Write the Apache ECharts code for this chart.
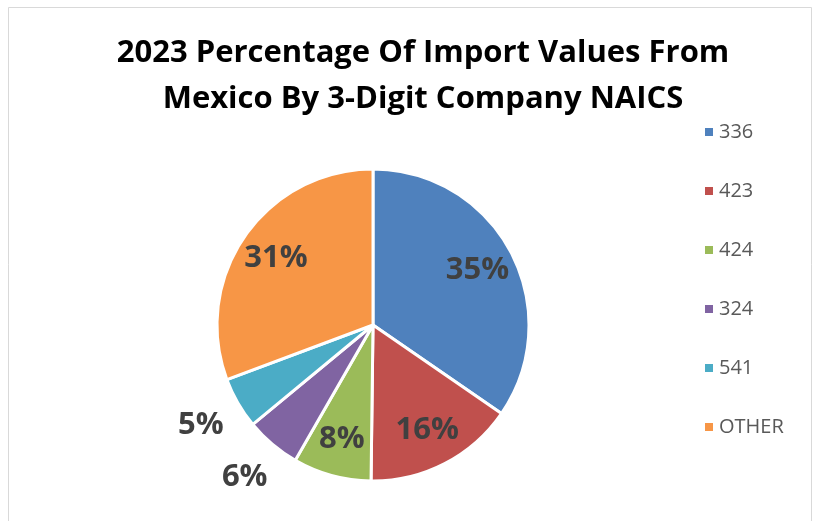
<!DOCTYPE html>
<html>
<head>
<meta charset="utf-8">
<script src="https://cdn.jsdelivr.net/npm/echarts@6/dist/echarts.min.js"></script>
<style>
  html, body { margin: 0; padding: 0; background: #fff; }
  #main { width: 814px; height: 521px; }
</style>
</head>
<body>
<div id="main"></div>
<script>
// company NAICS codes and their share of import value (percent)
const codes = ["336", "423", "424", "324", "541", "OTHER"];
const shares = [34.6, 15.6, 8.1, 5.7, 5.3, 30.7];
const colors = ["#4F81BD", "#C0504D", "#9BBB59", "#8064A2", "#4BACC6", "#F79646"];
// which slices carry their label outside the pie
const outsideLabel = [false, false, false, true, true, false];

const font = "'Open Sans', 'Liberation Sans', sans-serif";

const pieData = codes.map((c, i) => ({
  name: c,
  value: shares[i],
  itemStyle: { color: colors[i] },
}));

const labelText = (p) => Math.round(p.percent) + "%";
const labelStyle = {
  show: true,
  position: "inside",
  formatter: labelText,
  fontFamily: font,
  fontWeight: "bold",
  fontSize: 31,
  color: "#404040",
};

// label-only rings laid over the pie, one for inner labels, one for outer ones
function labelRing(radius, wantOutside) {
  return {
    type: "pie",
    radius: radius,
    center: [373, 325],
    startAngle: 90,
    clockwise: true,
    silent: true,
    animation: false,
    itemStyle: { color: "rgba(0,0,0,0)", borderWidth: 0 },
    labelLine: { show: false },
    emphasis: { disabled: true },
    data: codes.map((c, i) => ({
      name: c,
      value: shares[i],
      label: Object.assign({}, labelStyle, { show: outsideLabel[i] === wantOutside }),
    })),
  };
}

const chart = echarts.init(document.getElementById("main"));
chart.setOption({
  backgroundColor: "#fff",
  animation: false,
  graphic: [
    {
      type: "rect",
      shape: { x: 8.5, y: 7.5, width: 803, height: 540 },
      style: { fill: "none", stroke: "#d9d9d9", lineWidth: 1 },
      silent: true,
    },
  ],
  title: {
    text: "2023 Percentage Of Import Values From\nMexico By 3-Digit Company NAICS",
    left: 418,
    top: 25,
    textAlign: "center",
    textStyle: {
      fontFamily: font,
      fontWeight: "bold",
      fontSize: 31,
      lineHeight: 46,
      color: "#000",
    },
  },
  legend: {
    orient: "vertical",
    left: 698,
    top: 116,
    icon: "rect",
    itemWidth: 10,
    itemHeight: 10,
    itemGap: 37,
    data: codes,
    textStyle: {
      fontFamily: font,
      fontSize: 20,
      lineHeight: 22,
      color: "#595959",
    },
  },
  series: [
    {
      name: "Import share",
      type: "pie",
      radius: [0, 156],
      center: [373, 325],
      startAngle: 90,
      clockwise: true,
      itemStyle: { borderColor: "#fff", borderWidth: 3 },
      label: { show: false },
      labelLine: { show: false },
      data: pieData,
    },
    labelRing([64, 166], false),
    labelRing([172, 220], true),
  ],
});
</script>
</body>
</html>
